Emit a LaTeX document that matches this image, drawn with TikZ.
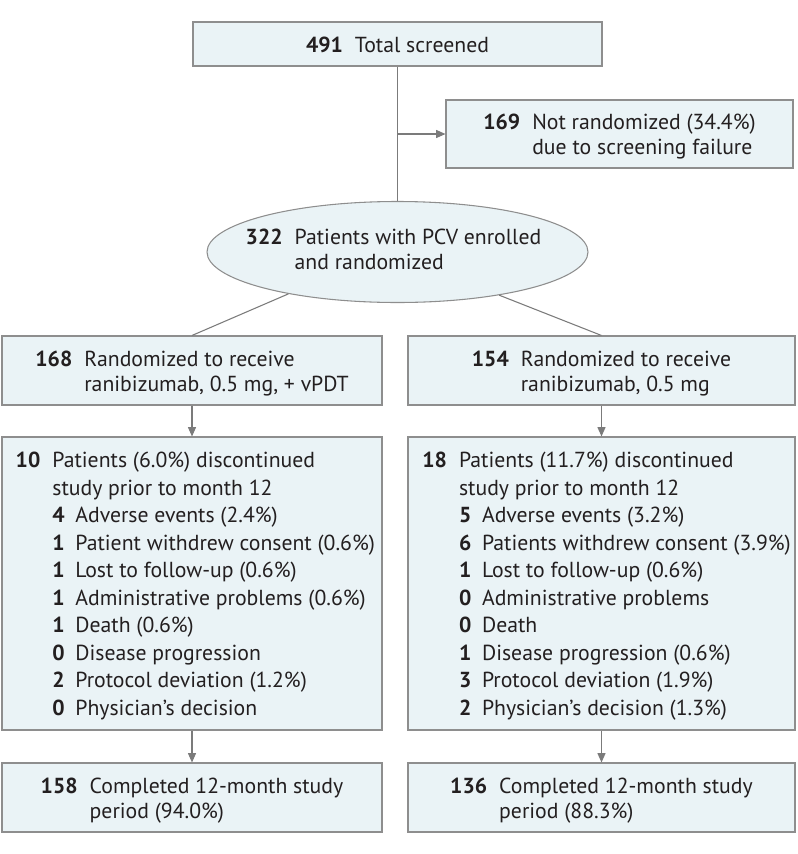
\documentclass[tikz,border=0pt]{standalone}
\usepackage{fontspec}
\setmainfont{PT Sans}
\usetikzlibrary{shapes.geometric,arrows.meta}
\definecolor{boxfill}{HTML}{EAF3F6}
\definecolor{boxline}{HTML}{8E8E8E}
\definecolor{connc}{HTML}{7B7B7B}
\definecolor{txtc}{HTML}{231F20}
\newcommand\numgap{\hspace{9pt}}
\newcommand\reasonitem[2]{\textbf{#1}\hspace{8pt}#2}
\begin{document}
\begin{tikzpicture}[x=0.75pt,y=-0.75pt,
  box/.style={draw=boxline, fill=boxfill, line width=0.8pt, inner sep=0pt},
  txt/.style={inner sep=0pt, text=txtc, font=\fontsize{16.3}{18.5}\selectfont},
  listtxt/.style={inner sep=0pt, text=txtc, font=\fontsize{16.3}{20.6}\selectfont},
  conn/.style={draw=connc, line width=0.8pt},
  arr/.style={conn, -{Triangle[length=7pt,width=6pt]}}]
\useasboundingbox (0,0) rectangle (798,854);

% boxes
\node[box, minimum width=306.75pt, minimum height=33pt] (top) at (397.5,44) {};
\node[box, minimum width=260.25pt, minimum height=51pt] (nr) at (619.5,134) {};
\node[box, ellipse, minimum width=285.75pt, minimum height=75.75pt] (ell) at (397.5,252) {};
\node[box, minimum width=285pt, minimum height=51.75pt] (b168) at (192,370.5) {};
\node[box, minimum width=290.25pt, minimum height=51.75pt] (b154) at (601.5,370.5) {};
\node[box, minimum width=285pt, minimum height=219.75pt] (disc1) at (192,583.5) {};
\node[box, minimum width=290.25pt, minimum height=219.75pt] (disc2) at (601.5,583.5) {};
\node[box, minimum width=285pt, minimum height=51.75pt] (comp1) at (192,797.5) {};
\node[box, minimum width=290.25pt, minimum height=51.75pt] (comp2) at (601.5,797.5) {};

% connectors
\coordinate (jn) at (top.south |- nr.west);
\draw[conn] (top.south) -- (ell.north);
\draw[arr] (jn) -- (nr.west);
\draw[conn] (ell.201) -- (b168.north);
\draw[conn] (ell.337) -- (b154.north);
\draw[arr] (b168) -- (disc1);
\draw[arr] (b154) -- (disc2);
\draw[arr] (disc1) -- (comp1);
\draw[arr] (disc2) -- (comp2);

% texts
\node[txt] (toptxt) at ([yshift=-1pt]top.center) {\textbf{491}\numgap Total screened};
\node[txt] (nrtxt) at ([yshift=-2.5pt]nr.center) {\begin{tabular}{@{}l@{\numgap}l@{}}\textbf{169} & Not randomized (34.4\%)\\ & due to screening failure\end{tabular}};
\node[txt] (elltxt) at ([xshift=-3pt]ell.center) {\begin{tabular}{@{}l@{\numgap}l@{}}\textbf{322} & Patients with PCV enrolled\\ & and randomized\end{tabular}};
\node[txt] (t168) at ([yshift=-2.5pt]b168.center) {\begin{tabular}{@{}l@{\numgap}l@{}}\textbf{168} & Randomized to receive\\ & ranibizumab, 0.5 mg, + vPDT\end{tabular}};
\node[txt] (t154) at ([yshift=-2.5pt]b154.center) {\begin{tabular}{@{}l@{\numgap}l@{}}\textbf{154} & Randomized to receive\\ & ranibizumab, 0.5 mg\end{tabular}};
\node[listtxt, anchor=west] (td1) at ([xshift=10.5pt,yshift=-1.9pt]disc1.west) {\begin{tabular}{@{}l@{\numgap}l@{}}
\textbf{10} & Patients (6.0\%) discontinued\\
 & study prior to month 12\\
 & \reasonitem{4}{Adverse events (2.4\%)}\\
 & \reasonitem{1}{Patient withdrew consent (0.6\%)}\\
 & \reasonitem{1}{Lost to follow-up (0.6\%)}\\
 & \reasonitem{1}{Administrative problems (0.6\%)}\\
 & \reasonitem{1}{Death (0.6\%)}\\
 & \reasonitem{0}{Disease progression}\\
 & \reasonitem{2}{Protocol deviation (1.2\%)}\\
 & \reasonitem{0}{Physician’s decision}
\end{tabular}};
\node[listtxt, anchor=west] (td2) at ([xshift=11pt,yshift=-1.9pt]disc2.west) {\begin{tabular}{@{}l@{\numgap}l@{}}
\textbf{18} & Patients (11.7\%) discontinued\\
 & study prior to month 12\\
 & \reasonitem{5}{Adverse events (3.2\%)}\\
 & \reasonitem{6}{Patients withdrew consent (3.9\%)}\\
 & \reasonitem{1}{Lost to follow-up (0.6\%)}\\
 & \reasonitem{0}{Administrative problems}\\
 & \reasonitem{0}{Death}\\
 & \reasonitem{1}{Disease progression (0.6\%)}\\
 & \reasonitem{3}{Protocol deviation (1.9\%)}\\
 & \reasonitem{2}{Physician’s decision (1.3\%)}
\end{tabular}};
\node[txt] (tc1) at ([yshift=-2.5pt]comp1.center) {\begin{tabular}{@{}l@{\numgap}l@{}}\textbf{158} & Completed 12-month study\\ & period (94.0\%)\end{tabular}};
\node[txt] (tc2) at ([yshift=-2.5pt]comp2.center) {\begin{tabular}{@{}l@{\numgap}l@{}}\textbf{136} & Completed 12-month study\\ & period (88.3\%)\end{tabular}};
\end{tikzpicture}
\end{document}
